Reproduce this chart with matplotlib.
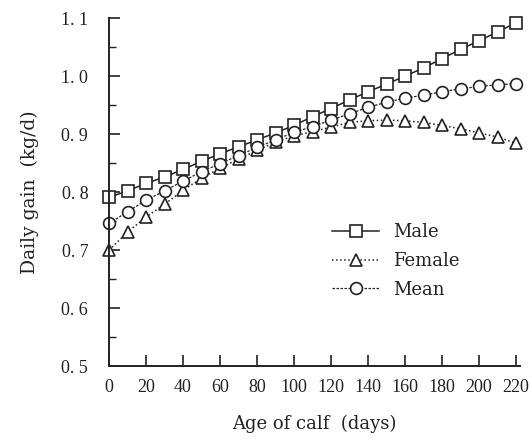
import numpy as np
import matplotlib
matplotlib.use('Agg')
import matplotlib.pyplot as plt
from matplotlib.ticker import MultipleLocator

# data, one point every 10 days
age = [0, 10, 20, 30, 40, 50, 60, 70, 80, 90, 100, 110, 120, 130, 140, 150,
       160, 170, 180, 190, 200, 210, 220]
male = [0.791, 0.802, 0.815, 0.826, 0.839, 0.853, 0.866, 0.878, 0.890, 0.902,
        0.915, 0.930, 0.944, 0.959, 0.973, 0.986, 1.000, 1.014, 1.030, 1.046,
        1.061, 1.076, 1.092]
female = [0.700, 0.731, 0.757, 0.779, 0.803, 0.824, 0.841, 0.857, 0.872, 0.886,
          0.897, 0.904, 0.912, 0.920, 0.923, 0.924, 0.923, 0.920, 0.915, 0.909,
          0.902, 0.895, 0.884]
mean = [0.746, 0.766, 0.786, 0.802, 0.819, 0.835, 0.849, 0.863, 0.877, 0.890,
        0.903, 0.913, 0.924, 0.935, 0.946, 0.955, 0.962, 0.967, 0.973, 0.978,
        0.982, 0.985, 0.987]

xticks = [0, 20, 40, 60, 80, 100, 120, 140, 160, 180, 200, 220]
yticks = [0.5, 0.6, 0.7, 0.8, 0.9, 1.0, 1.1]
ylabels = ['0. 5', '0. 6', '0. 7', '0. 8', '0. 9', '1. 0', '1. 1']

ink = '#222222'
plt.rcParams['font.family'] = ['Liberation Serif', 'DejaVu Serif']

fig = plt.figure(figsize=(5.32, 4.4), dpi=100)
ax = fig.add_axes([0.205, 0.168, 0.772, 0.791])

mk = dict(mfc='white', mec=ink, mew=1.2, ms=8.5, color=ink, clip_on=False)
ax.plot(age, male, '-', marker='s', lw=1.1, label='Male', **mk)
ax.plot(age, female, ':', marker='^', lw=1.1, label='Female', **mk)
ax.plot(age, mean, linestyle=(0, (2, 1.2)), marker='o', lw=0.9, label='Mean', **mk)

ax.set_xlim(0, 222)
ax.set_ylim(0.5, 1.1)
ax.set_xticks(xticks)
ax.set_yticks(yticks)
ax.set_yticklabels(ylabels)
ax.yaxis.set_minor_locator(MultipleLocator(0.05))
ax.tick_params(axis='both', which='major', direction='in', length=8, width=1.2,
               labelsize=13, color=ink, labelcolor=ink)
ax.tick_params(axis='y', which='minor', direction='in', length=5, width=1.0,
               color=ink)
ax.tick_params(axis='x', pad=9)
ax.tick_params(axis='y', pad=15)

for s in ['top', 'right']:
    ax.spines[s].set_visible(False)
for s in ['left', 'bottom']:
    ax.spines[s].set_linewidth(1.4)
    ax.spines[s].set_color(ink)

ax.set_xlabel('Age of calf  (days)', fontsize=13, family='DejaVu Serif',
              labelpad=14, color=ink)
ax.set_ylabel('Daily gain  (kg/d)', fontsize=13.5, family='DejaVu Serif',
              labelpad=16, color=ink)

ax.legend(loc='upper left', bbox_to_anchor=(0.543, 0.411), frameon=False,
          prop={'family': 'DejaVu Serif', 'size': 13}, borderpad=0,
          borderaxespad=0, handlelength=2.6, handletextpad=0.8,
          labelspacing=0.6, labelcolor=ink)

fig.savefig('out.png', dpi=100)
